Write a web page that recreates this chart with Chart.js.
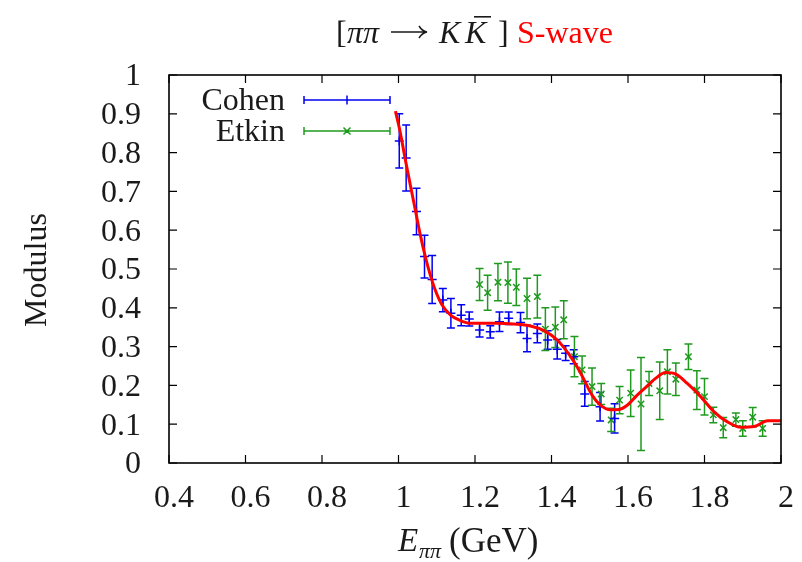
<!DOCTYPE html>
<html>
<head>
<meta charset="utf-8">
<script src="https://cdn.jsdelivr.net/npm/chart.js@4/dist/chart.umd.min.js"></script>
<style>
html, body { margin: 0; padding: 0; background: #fff; }
</style>
</head>
<body>
<canvas id="modChart" width="802" height="562"></canvas>
<script>
// fitted S-wave modulus (red curve)
const curveE = [0.992, 1.005, 1.018, 1.031, 1.044, 1.057, 1.07, 1.083, 1.096, 1.114, 1.136, 1.162, 1.188,
  1.214, 1.258, 1.301, 1.345, 1.38, 1.415, 1.45, 1.476, 1.506, 1.528, 1.554, 1.576, 1.598, 1.624, 1.65,
  1.672, 1.698, 1.725, 1.755, 1.79, 1.825, 1.86, 1.895, 1.93, 1.965, 2.0];
const curveMod = [0.907, 0.85, 0.781, 0.716, 0.652, 0.588, 0.532, 0.485, 0.446, 0.407, 0.381, 0.367, 0.36,
  0.36, 0.36, 0.358, 0.353, 0.341, 0.317, 0.274, 0.232, 0.175, 0.149, 0.137, 0.138, 0.149, 0.175, 0.198,
  0.218, 0.233, 0.229, 0.205, 0.171, 0.132, 0.106, 0.092, 0.094, 0.109, 0.109];

// Cohen data
const cohenE = [1.002, 1.020, 1.047, 1.068, 1.088, 1.116, 1.137, 1.164, 1.185, 1.212, 1.24, 1.264, 1.288,
  1.319, 1.336, 1.363, 1.39, 1.415, 1.437, 1.458, 1.487, 1.527, 1.565];
const cohenMod = [0.83, 0.786, 0.648, 0.532, 0.473, 0.42, 0.386, 0.381, 0.371, 0.343, 0.338, 0.364, 0.373,
  0.362, 0.321, 0.334, 0.317, 0.293, 0.283, 0.274, 0.178, 0.145, 0.115];
const cohenErr = [0.07, 0.085, 0.06, 0.055, 0.062, 0.03, 0.038, 0.027, 0.018, 0.018, 0.016, 0.025, 0.016,
  0.026, 0.034, 0.024, 0.024, 0.025, 0.019, 0.018, 0.032, 0.037, 0.038];

// Etkin data
const etkinE = [1.212, 1.233, 1.26, 1.286, 1.308, 1.336, 1.363, 1.384, 1.41, 1.432, 1.46, 1.48, 1.506, 1.53,
  1.556, 1.578, 1.607, 1.634, 1.655, 1.683, 1.703, 1.725, 1.758, 1.78, 1.8, 1.823, 1.849, 1.882, 1.9, 1.926, 1.952];
const etkinMod = [0.46, 0.439, 0.466, 0.465, 0.453, 0.424, 0.429, 0.345, 0.35, 0.369, 0.274, 0.24, 0.197, 0.178,
  0.111, 0.162, 0.18, 0.152, 0.205, 0.186, 0.235, 0.216, 0.274, 0.188, 0.171, 0.124, 0.091, 0.112, 0.089, 0.118, 0.089];
const etkinErr = [0.041, 0.045, 0.048, 0.053, 0.047, 0.052, 0.055, 0.055, 0.052, 0.049, 0.052, 0.036, 0.048, 0.027,
  0.03, 0.035, 0.06, 0.12, 0.031, 0.074, 0.057, 0.042, 0.033, 0.05, 0.047, 0.02, 0.026, 0.017, 0.02, 0.025, 0.02];

const xTicks = [0.4, 0.6, 0.8, 1, 1.2, 1.4, 1.6, 1.8, 2];
const xTickLabels = ["0.4", "0.6", "0.8", "1", "1.2", "1.4", "1.6", "1.8", "2"];
const yTicks = [0, 0.1, 0.2, 0.3, 0.4, 0.5, 0.6, 0.7, 0.8, 0.9, 1];
const yTickLabels = ["0", "0.1", "0.2", "0.3", "0.4", "0.5", "0.6", "0.7", "0.8", "0.9", "1"];

const BLUE = "#0000f0";
const GREEN = "#1f9a1f";
const RED = "#ff0000";
const SERIF = "'Liberation Serif', 'DejaVu Serif', serif";
const TXT = "#1a1a1a";
const FS = 32;

const toPts = (xs, ys) => xs.map((x, i) => ({ x: x, y: ys[i] }));

function errorBars(c, xs, ys, E, M, Err, color) {
  c.strokeStyle = color;
  c.lineWidth = 1.5;
  c.beginPath();
  for (let i = 0; i < E.length; i++) {
    const px = xs.getPixelForValue(E[i]);
    const lo = ys.getPixelForValue(M[i] - Err[i]);
    const hi = ys.getPixelForValue(M[i] + Err[i]);
    c.moveTo(px, lo); c.lineTo(px, hi);
    c.moveTo(px - 4, lo); c.lineTo(px + 4, lo);
    c.moveTo(px - 4, hi); c.lineTo(px + 4, hi);
  }
  c.stroke();
}

const decorations = {
  id: "decorations",
  beforeDatasetsDraw(chart) {
    const c = chart.ctx, xs = chart.scales.x, ys = chart.scales.y;
    c.save();
    errorBars(c, xs, ys, cohenE, cohenMod, cohenErr, BLUE);
    errorBars(c, xs, ys, etkinE, etkinMod, etkinErr, GREEN);
    c.restore();
  },
  afterDraw(chart) {
    const c = chart.ctx, a = chart.chartArea, xs = chart.scales.x, ys = chart.scales.y;
    c.save();
    // frame + inward ticks on all sides
    c.strokeStyle = "#000";
    c.lineWidth = 1.6;
    c.strokeRect(a.left, a.top, a.right - a.left, a.bottom - a.top);
    c.lineWidth = 1.2;
    c.beginPath();
    xTicks.forEach(v => {
      const px = xs.getPixelForValue(v);
      c.moveTo(px, a.bottom); c.lineTo(px, a.bottom - 8);
      c.moveTo(px, a.top); c.lineTo(px, a.top + 8);
    });
    yTicks.forEach(v => {
      const py = ys.getPixelForValue(v);
      c.moveTo(a.left, py); c.lineTo(a.left + 8, py);
      c.moveTo(a.right, py); c.lineTo(a.right - 8, py);
    });
    c.stroke();

    // title
    c.fillStyle = TXT;
    c.strokeStyle = TXT;
    c.textBaseline = "alphabetic";
    c.textAlign = "left";
    const up = FS + "px " + SERIF, it = "italic " + FS + "px " + SERIF;
    const tb = 43;
    c.font = up; c.fillText("[", 336, tb);
    c.font = it; c.fillText("ππ", 347, tb);
    // arrow
    c.lineWidth = 1.5;
    c.beginPath();
    c.moveTo(391, tb - 11); c.lineTo(426, tb - 11);
    c.moveTo(419, tb - 17); c.quadraticCurveTo(422, tb - 12, 427, tb - 11);
    c.moveTo(419, tb - 5); c.quadraticCurveTo(422, tb - 10, 427, tb - 11);
    c.stroke();
    c.font = it; c.fillText("K", 439, tb); c.fillText("K", 465, tb);
    c.fillRect(474, 16, 17, 1.6);
    c.font = up; c.fillText("]", 498, tb);
    c.fillStyle = RED; c.fillText("S-wave", 517, tb);

    // x title
    c.fillStyle = TXT;
    c.font = "italic 33px " + SERIF; c.fillText("E", 398, 551);
    c.font = "italic 22px " + SERIF; c.fillText("ππ", 419, 558);
    c.font = "35px " + SERIF; c.fillText("(GeV)", 449, 552);

    // y title
    c.save();
    c.translate(38, 270);
    c.rotate(-Math.PI / 2);
    c.textAlign = "center";
    c.textBaseline = "middle";
    c.font = up;
    c.fillText("Modulus", 0, 0);
    c.restore();

    // key
    c.textAlign = "right";
    c.font = up;
    c.fillText("Cohen", 285, 110);
    c.fillText("Etkin", 285, 141);
    c.lineWidth = 1.5;
    [[100, BLUE, "+"], [131, GREEN, "x"]].forEach(([y, col, m]) => {
      c.strokeStyle = col;
      c.beginPath();
      c.moveTo(304, y); c.lineTo(390, y);
      c.moveTo(304, y - 4); c.lineTo(304, y + 4);
      c.moveTo(390, y - 4); c.lineTo(390, y + 4);
      if (m === "+") {
        c.moveTo(347, y - 4.5); c.lineTo(347, y + 4.5);
      } else {
        c.moveTo(343.5, y - 3.5); c.lineTo(350.5, y + 3.5);
        c.moveTo(343.5, y + 3.5); c.lineTo(350.5, y - 3.5);
      }
      c.stroke();
    });
    c.restore();
  }
};

const ctx = document.getElementById("modChart").getContext("2d");
const modChart = new Chart(ctx, {
  type: "scatter",
  data: {
    datasets: [
      {
        label: "fit",
        type: "line",
        data: toPts(curveE, curveMod),
        borderColor: RED,
        borderWidth: 3,
        pointRadius: 0,
        cubicInterpolationMode: "monotone",
        fill: false,
      },
      {
        label: "Cohen",
        data: toPts(cohenE, cohenMod),
        pointStyle: "cross",
        pointRadius: 4.5,
        borderWidth: 1.5,
        borderColor: BLUE,
        backgroundColor: BLUE,
      },
      {
        label: "Etkin",
        data: toPts(etkinE, etkinMod),
        pointStyle: "crossRot",
        pointRadius: 4.5,
        borderWidth: 1.5,
        borderColor: GREEN,
        backgroundColor: GREEN,
      },
    ],
  },
  options: {
    responsive: false,
    animation: false,
    devicePixelRatio: 1,
    layout: { padding: { left: 0, right: 21, top: 75, bottom: 0 } },
    plugins: {
      legend: { display: false },
      tooltip: { enabled: false },
    },
    scales: {
      x: {
        type: "linear",
        min: 0.4,
        max: 2,
        afterBuildTicks: s => { s.ticks = xTicks.map(v => ({ value: v })); },
        afterFit: s => { s.height = 99; },
        grid: { display: false },
        border: { display: false },
        ticks: {
          callback: (v, i) => xTickLabels[i],
          font: { family: SERIF, size: FS },
          color: TXT,
          padding: 8,
          labelOffset: 5,
          maxRotation: 0,
          autoSkip: false,
        },
      },
      y: {
        type: "linear",
        min: 0,
        max: 1,
        afterBuildTicks: s => { s.ticks = yTicks.map(v => ({ value: v })); },
        afterFit: s => { s.width = 169; },
        grid: { display: false },
        border: { display: false },
        ticks: {
          callback: (v, i) => yTickLabels[i],
          font: { family: SERIF, size: FS },
          color: TXT,
          padding: 20,
          labelOffset: 2,
          autoSkip: false,
        },
      },
    },
  },
  plugins: [decorations],
});
</script>
</body>
</html>
